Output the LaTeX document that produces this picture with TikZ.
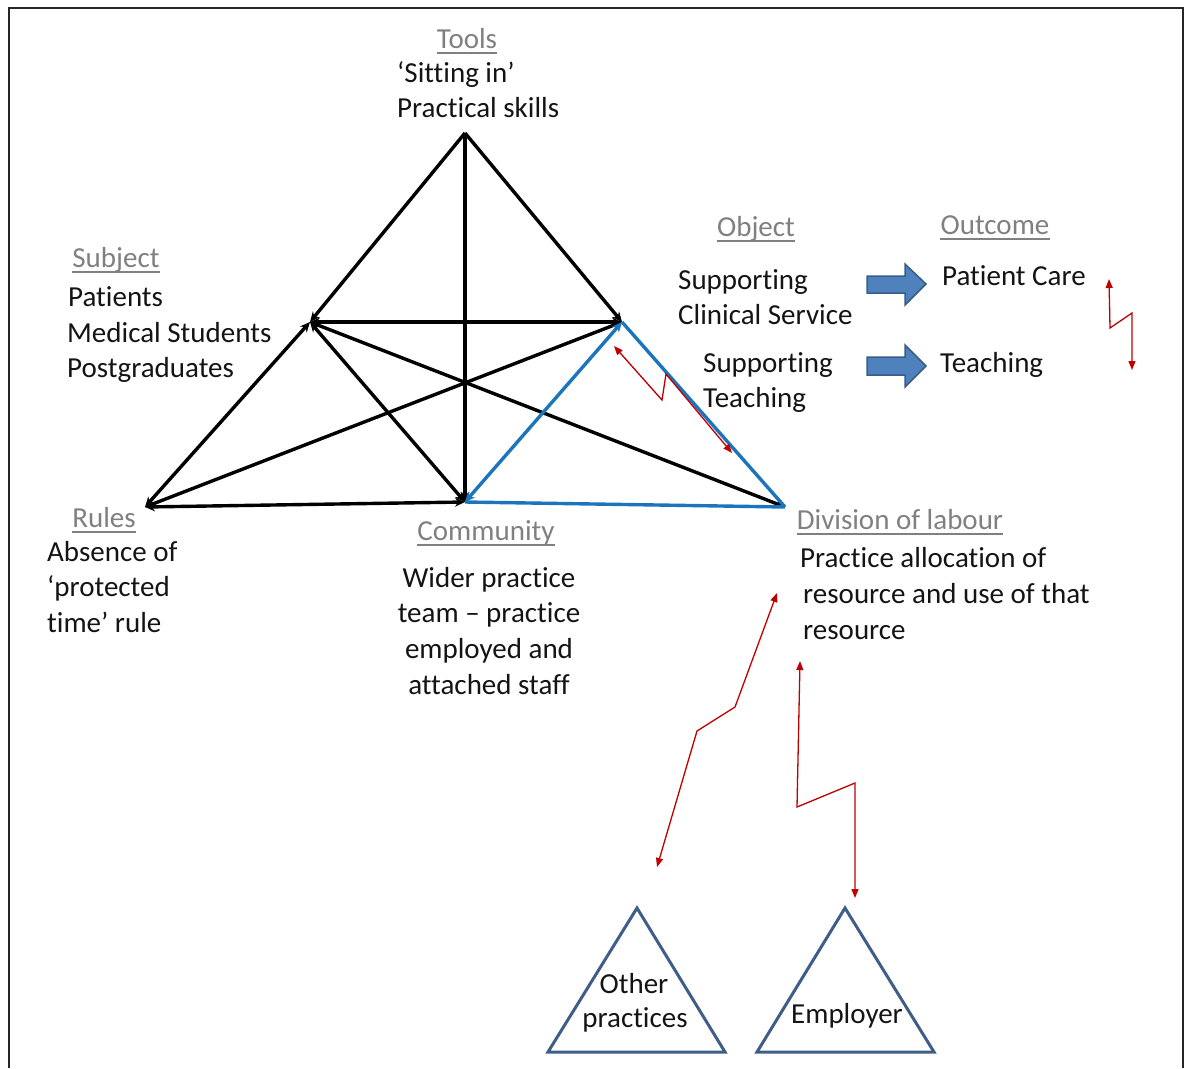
\documentclass[tikz,border=0pt]{standalone}
\usepackage{fontspec}
\setmainfont[Ligatures=NoCommon]{Carlito}
\usetikzlibrary{arrows.meta,calc}
\definecolor{linkblue}{RGB}{28,117,188}
\definecolor{boltred}{RGB}{192,0,0}
\definecolor{headgray}{RGB}{128,128,128}
\definecolor{blockfill}{RGB}{79,129,189}
\definecolor{blockedge}{RGB}{56,93,138}
\definecolor{triedge}{RGB}{62,93,135}
\definecolor{inkblack}{RGB}{20,20,20}

\begin{document}
\begin{tikzpicture}[x=1pt,y=-1pt,
  txt/.style={inner sep=0pt, font=\fontsize{29}{35.5}\selectfont, text=inkblack},
  lt/.style={txt, anchor=base west},
  ct/.style={txt, anchor=base},
  heading/.style={txt, anchor=base, text=headgray},
  uline/.style={headgray, line width=1.8pt},
  edge/.style={line width=3.4pt, draw=black},
  bedge/.style={line width=3.4pt, draw=linkblue},
  twotips/.style={{Stealth[length=10pt,width=9pt]}-{Stealth[length=10pt,width=9pt]}},
  endtip/.style={-{Stealth[length=10pt,width=9pt]}},
  bolt/.style={draw=boltred, line width=1.3pt, line join=miter,
    {Triangle[length=9pt,width=7pt]}-{Triangle[length=9pt,width=7pt]}},
  blockarrow/.style={fill=blockfill, draw=blockedge, line width=1.5pt, line join=miter},
  grouptri/.style={draw=triedge, line width=3pt, line join=miter},
  frame/.style={draw=black!85, line width=2pt}
]
\useasboundingbox (0,0) rectangle (1188,1068);

% outer frame (open at the bottom)
\draw[frame] (9,1068) -- (9,8) -- (1183,8) -- (1183,1068);

% activity system vertices
\coordinate (T) at (465,133);
\coordinate (S) at (310,322);
\coordinate (O) at (622,322);
\coordinate (R) at (145,507);
\coordinate (C) at (465,502);
\coordinate (D) at (785,507);

% black links
\draw[edge, endtip] (T) -- (S);
\draw[edge, endtip] (T) -- (O);
\draw[edge, endtip] (T) -- (C);
\draw[edge, twotips] (S) -- (R);
\draw[edge, twotips] (S) -- (O);
\draw[edge, twotips] (S) -- (C);
\draw[edge, twotips] (S) -- (D);
\draw[edge, twotips] (O) -- (R);
\draw[edge, twotips] (C) -- (R);

% blue links
\draw[bedge, twotips] (C) -- (O);
\draw[bedge] (O) -- (D);
\draw[bedge] (C) -- (D);

% headings
\node[heading] (tools) at (467,48) {Tools};
\node[heading] (subject) at (116,267) {Subject};
\node[heading] (rules) at (104,527) {Rules};
\node[heading] (community) at (486,540) {Community};
\node[heading] (object) at (756,236) {Object};
\node[heading] (outcome) at (995,234) {Outcome};
\node[heading] (division) at (900,529) {Division of labour};
\foreach \h in {tools,subject,rules,community,object,outcome,division}
  \draw[uline] ([yshift=-5pt]\h.base west) -- ([yshift=-5pt]\h.base east);

% tools
\node[lt] (tool1) at (397,82) {‘Sitting in’};
\node[lt] (tool2) at (397,117) {Practical skills};

% subject
\node[lt] (subj1) at (68,306) {Patients};
\node[lt] (subj2) at (67,342) {Medical Students};
\node[lt] (subj3) at (67,377) {Postgraduates};

% rules
\node[lt] (rule1) at (47,561) {Absence of};
\node[lt] (rule2) at (47,596) {‘protected};
\node[lt] (rule3) at (47,632) {time’ rule};

% community
\node[ct] (comm1) at (489,587) {Wider practice};
\node[ct] (comm2) at (489,622) {team – practice};
\node[ct] (comm3) at (489,658) {employed and};
\node[ct] (comm4) at (489,694) {attached staff};

% object
\node[lt] (obj1) at (678,289) {Supporting};
\node[lt] (obj2) at (678,324) {Clinical Service};
\node[lt] (obj3) at (703,372) {Supporting};
\node[lt] (obj4) at (703,407) {Teaching};

% outcome
\node[lt] (out1) at (942,285) {Patient Care};
\node[lt] (out2) at (940,372) {Teaching};

% division of labour
\node[lt] (div1) at (800,567) {Practice allocation of};
\node[lt] (div2) at (803,603) {resource and use of that};
\node[lt] (div3) at (803,639) {resource};

% block arrows from object to outcome
\draw[blockarrow] (867,276) -- (905,276) -- (905,264) -- (926,284) -- (905,305)
  -- (905,293) -- (867,293) -- cycle;
\draw[blockarrow] (867,357) -- (905,357) -- (905,345) -- (926,366) -- (905,387)
  -- (905,375) -- (867,375) -- cycle;

% contradictions
\coordinate (pc1) at (1109,279);
\coordinate (pc2) at (1132,370);
\draw[bolt] (pc1) -- (1110,328) -- (1132,313) -- (pc2);

\coordinate (od1) at (614,346);
\coordinate (od2) at (732,453);
\draw[bolt] (od1) -- (662,400) -- (666,374) -- (od2);

\coordinate (dv1) at (777,593);
\coordinate (dv2) at (657,867);
\draw[bolt] (dv1) -- (735,707) -- (697,731) -- (dv2);

\coordinate (em1) at (800,661);
\coordinate (em2) at (855,898);
\draw[bolt] (em1) -- (797,807) -- (855,783) -- (em2);

% neighbouring activity systems
\coordinate (op1) at (637,908);
\coordinate (op2) at (548,1052);
\coordinate (op3) at (725,1052);
\draw[grouptri] (op1) -- (op2) -- (op3) -- cycle;
\node[ct] (other1) at (634,993) {Other};
\node[ct] (other2) at (635,1027) {practices};

\coordinate (ep1) at (845,908);
\coordinate (ep2) at (757,1052);
\coordinate (ep3) at (934,1052);
\draw[grouptri] (ep1) -- (ep2) -- (ep3) -- cycle;
\node[ct] (employer) at (847,1023) {Employer};
\end{tikzpicture}
\end{document}
